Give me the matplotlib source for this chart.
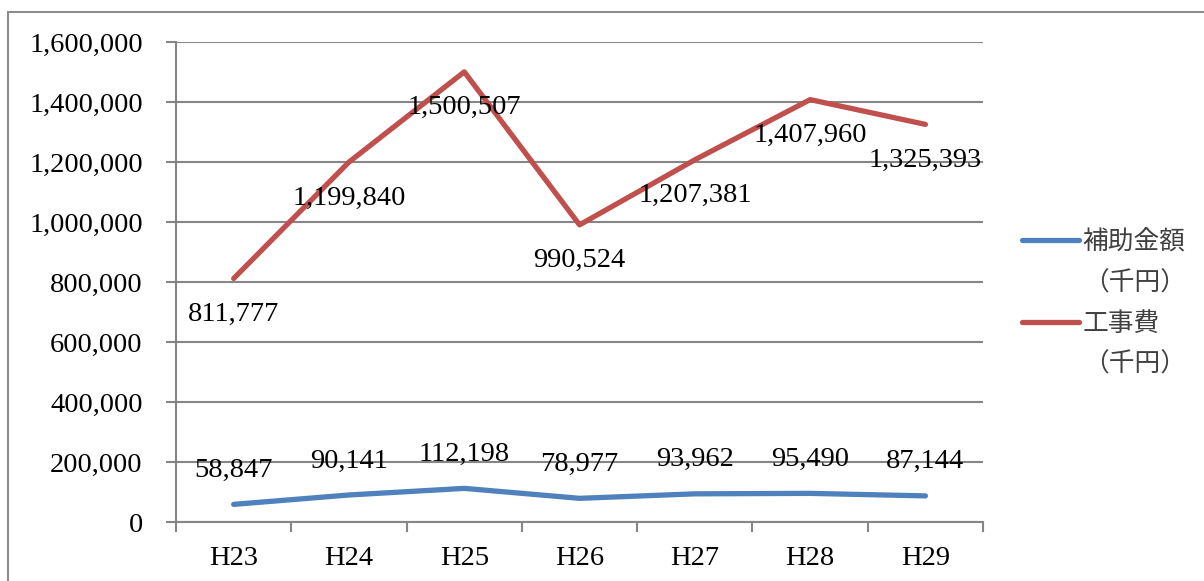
import matplotlib

matplotlib.use("Agg")
import matplotlib.pyplot as plt
from matplotlib.lines import Line2D
from matplotlib.patches import Rectangle
from matplotlib.ticker import FuncFormatter, MultipleLocator

# data
years = ["H23", "H24", "H25", "H26", "H27", "H28", "H29"]
subsidy = [58847, 90141, 112198, 78977, 93962, 95490, 87144]          # 補助金額（千円）
construction = [811777, 1199840, 1500507, 990524, 1207381, 1407960, 1325393]  # 工事費（千円）

BLUE = "#4F81BD"
RED = "#C0504D"
GRID = "#868686"
SERIF = ["Liberation Serif"]
JP = ["Noto Sans CJK JP", "DejaVu Sans"]
FS = 20.5

fig = plt.figure(figsize=(12.04, 5.81), dpi=100)
ax = fig.add_axes([0.1462, 0.1015, 0.8165 - 0.1462, 0.9277 - 0.1015])

# outer chart border (runs off the right and bottom edges in the original)
fig.add_artist(Rectangle((0.0066, -0.2), 1.2, 0.979 + 0.2, transform=fig.transFigure,
                         fill=False, edgecolor="#8c8c8c", linewidth=1.5))

x = list(range(len(years)))
ax.plot(x, subsidy, color=BLUE, linewidth=3.8, solid_capstyle="round", zorder=3)
ax.plot(x, construction, color=RED, linewidth=3.8, solid_capstyle="round", zorder=3)

for xi, v in zip(x, construction):
    ax.annotate(f"{v:,}", (xi, v), xytext=(0, -36), textcoords="offset pixels",
                ha="center", va="center", fontsize=FS, family=SERIF, zorder=4)
for xi, v in zip(x, subsidy):
    ax.annotate(f"{v:,}", (xi, v), xytext=(0, 34), textcoords="offset pixels",
                ha="center", va="center", fontsize=FS, family=SERIF, zorder=4)

ax.set_xlim(-0.5, len(years) - 0.5)
ax.set_ylim(0, 1_600_000)
ax.yaxis.set_major_locator(MultipleLocator(200_000))
ax.yaxis.set_major_formatter(FuncFormatter(lambda v, _: f"{int(v):,}"))
ax.set_xticks(x)
ax.set_xticklabels(years)
ax.set_xticks([i - 0.5 for i in range(len(years) + 1)], minor=True)

ax.grid(axis="y", color=GRID, linewidth=1.5, zorder=1)
ax.set_axisbelow(True)
for side in ("top", "right"):
    ax.spines[side].set_visible(False)
for side in ("left", "bottom"):
    ax.spines[side].set_color(GRID)
    ax.spines[side].set_linewidth(1.5)

ax.tick_params(axis="y", direction="out", length=7, width=1.5, color=GRID, pad=17)
ax.tick_params(axis="x", which="major", length=0, pad=17)
ax.tick_params(axis="x", which="minor", direction="out", length=7, width=1.5, color=GRID)
for lab in ax.get_xticklabels() + ax.get_yticklabels():
    lab.set_fontfamily(SERIF)
    lab.set_fontsize(FS)

# legend: first line carries the handle, unit on the following row
handles = [
    Line2D([], [], color=BLUE, linewidth=3.8, solid_capstyle="round"),
    Line2D([], [], color="none"),
    Line2D([], [], color=RED, linewidth=3.8, solid_capstyle="round"),
    Line2D([], [], color="none"),
]
labels = ["補助金額", "（千円）", "工事費", "（千円）"]
leg = ax.legend(handles, labels, loc="center left", bbox_to_anchor=(1.02, 0.455),
                frameon=False, handlelength=2.2, handletextpad=0.15,
                labelspacing=0.58, prop={"family": JP, "size": 18.5})
for t in leg.get_texts():
    t.set_color("#404040")

fig.savefig("out.png", dpi=100)
